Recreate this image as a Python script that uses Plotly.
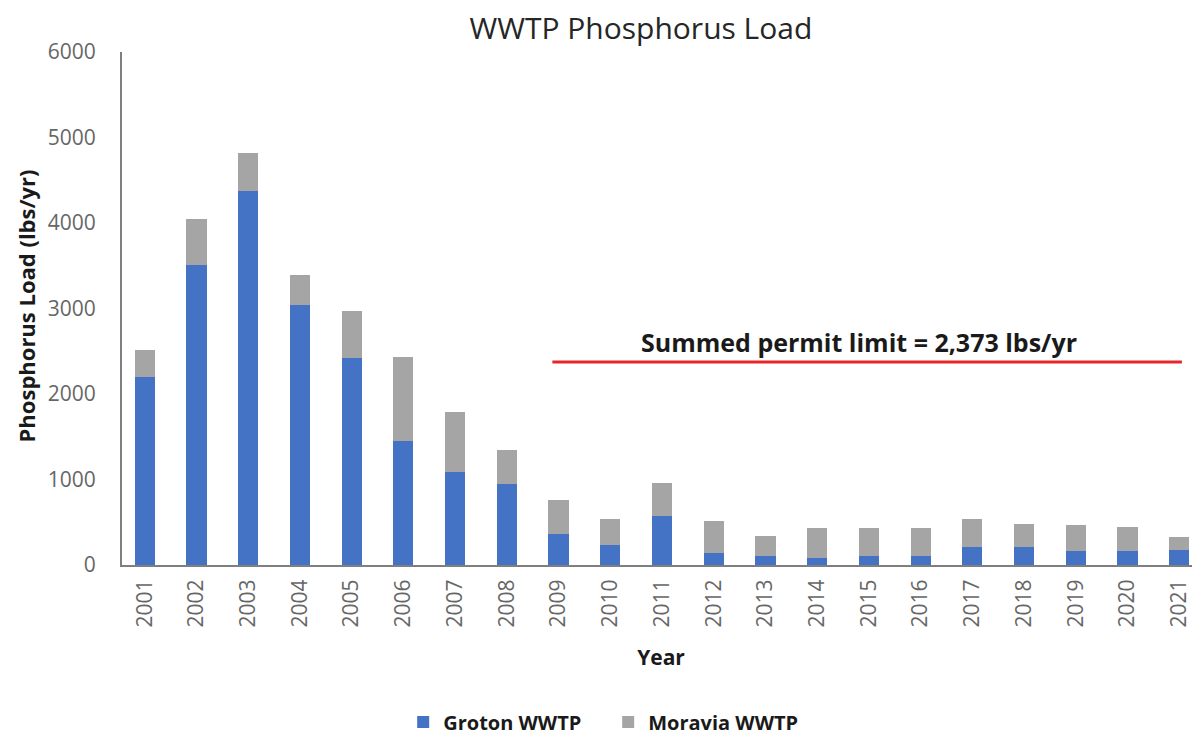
import plotly.graph_objects as go

years = list(range(2001, 2022))
year_labels = [str(y) for y in years]
groton = [2195, 3505, 4380, 3037, 2420, 1452, 1093, 949, 363, 234, 574, 144, 109, 86, 109, 109, 215, 215, 164, 164, 176]
moravia = [323, 543, 433, 359, 547, 980, 702, 398, 398, 301, 390, 371, 234, 344, 321, 321, 320, 269, 304, 285, 148]
limit_value = 2373
limit_years = [2008.88, 2021.05]
limit_label = "Summed permit limit = 2,373 lbs/yr"

FONT = "Open Sans"
TICK = "#666666"
DARK = "#1a1a1a"

fig = go.Figure()
fig.add_trace(go.Bar(x=years, y=groton, name="Groton WWTP", marker_color="#4472C4",
                     marker_line_width=0, width=0.39))
fig.add_trace(go.Bar(x=years, y=moravia, name="Moravia WWTP", marker_color="#A5A5A5",
                     marker_line_width=0, width=0.39))
fig.add_trace(go.Scatter(x=limit_years, y=[limit_value] * len(limit_years), mode="lines",
                         line=dict(color="#E8262A", width=3), showlegend=False, hoverinfo="skip"))

fig.add_annotation(x=sum(limit_years) / 2 - 0.15, y=limit_value, yshift=20, text="<b>" + limit_label + "</b>",
                   showarrow=False, font=dict(family=FONT, size=25, color=DARK))

# y-axis title as a rotated annotation
fig.add_annotation(xref="paper", yref="paper", x=-0.0895, y=0.505, xanchor="center", yanchor="middle",
                   text="<b>Phosphorus Load (lbs/yr)</b>", textangle=-90, showarrow=False,
                   font=dict(family=FONT, size=22, color=DARK))

fig.update_layout(
    barmode="stack",
    width=1192, height=729,
    paper_bgcolor="white", plot_bgcolor="white",
    margin=dict(l=114, r=0, t=44, b=172),
    title=dict(text="WWTP Phosphorus Load", x=0.531, xanchor="center", y=0.972, yanchor="middle",
               font=dict(family=FONT, size=30, color="#262626")),
    font=dict(family=FONT),
    xaxis=dict(range=[2000.56, 2021.4], tickvals=years, ticktext=year_labels, tickangle=-90,
               showline=True, linecolor="#7f7f7f", linewidth=2, showgrid=False, ticks="",
               automargin=False,
               tickfont=dict(family=FONT, size=21, color=TICK), ticklabelstandoff=4,
               title=dict(text="<b>Year</b>", font=dict(family=FONT, size=21, color=DARK), standoff=24)),
    yaxis=dict(range=[0, 6000], tickvals=[0, 1000, 2000, 3000, 4000, 5000, 6000],
               showline=True, linecolor="#7f7f7f", linewidth=2, showgrid=False, ticks="",
               automargin=False,
               tickfont=dict(family=FONT, size=21, color=TICK), ticklabelstandoff=20),
    legend=dict(orientation="h", xref="paper", x=0.451, xanchor="center",
                yref="container", y=0.0206, yanchor="middle",
                font=dict(family=FONT, size=20, color=DARK, weight="bold"), itemsizing="constant",
                traceorder="normal", itemwidth=30, entrywidth=160),
)
fig.write_html("out.html")
